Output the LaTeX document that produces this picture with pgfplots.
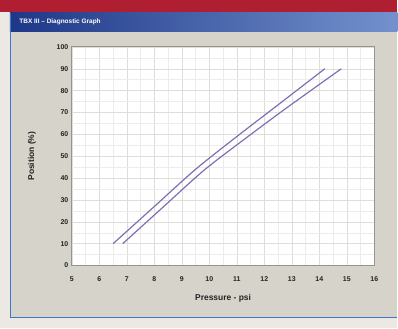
\documentclass[border=0pt]{standalone}
\usepackage{pgfplots}
\pgfplotsset{compat=1.18}
\usepackage{fontspec}
\setmainfont{Liberation Sans}
\definecolor{redband}{RGB}{176,30,50}
\definecolor{outer}{RGB}{236,233,229}
\definecolor{panel}{RGB}{214,211,203}
\definecolor{winblue}{RGB}{60,120,200}
\definecolor{tbdark}{RGB}{30,55,135}
\definecolor{tblight}{RGB}{115,145,205}
\definecolor{linecol}{RGB}{128,112,178}
\definecolor{majgrid}{RGB}{225,222,218}
\definecolor{mingrid}{RGB}{238,236,234}
\definecolor{framecol}{RGB}{150,148,142}
\definecolor{labcol}{RGB}{35,35,35}
\begin{document}
\begin{tikzpicture}[x=1bp,y=1bp]
% background decorations
\fill[outer] (0,0) rectangle (398,329);
\fill[redband] (0,317) rectangle (398,329);
\fill[panel] (10,11) rectangle (398,297);
\shade[left color=tbdark, right color=tblight] (10,297) rectangle (398,316);
\draw[winblue, line width=1.5bp] (10.5,316) -- (10.5,11) -- (398,11);
\node[anchor=west, text=white, font=\fontsize{6.5}{7}\selectfont\bfseries] at (16,307) {TBX III -- Diagnostic Graph};
\begin{axis}[
  at={(72bp,63bp)}, anchor=south west,
  scale only axis, width=303bp, height=219bp,
  xmin=5, xmax=16, ymin=0, ymax=100,
  xtick={5,...,16}, ytick={0,10,...,100},
  minor x tick num=1, minor y tick num=1,
  grid=both,
  major grid style={draw=majgrid, line width=0.5bp},
  minor grid style={draw=mingrid, line width=0.4bp},
  axis background/.style={fill=white},
  axis line style={draw=framecol, line width=1bp},
  tick style={draw=none},
  ticklabel style={font=\fontsize{7}{8}\selectfont\bfseries, text=labcol},
  xticklabel style={yshift=-8bp},
  /pgf/number format/assume math mode=true,
  xlabel={Pressure - psi}, ylabel={Position (\%)},
  label style={font=\fontsize{8.5}{9}\selectfont\bfseries, text=labcol},
  xlabel style={yshift=-6bp},
  ylabel style={yshift=14bp},
]
\addplot[linecol, line width=1.2bp, smooth] coordinates {
 (6.5,10) (8.0,27) (9.5,44) (11.0,59) (12.5,73.5) (14.2,90)
};
\addplot[linecol, line width=1.2bp, smooth] coordinates {
 (6.85,10) (8.3,26.5) (9.8,43.5) (11.3,58) (12.8,72) (14.8,90)
};
\end{axis}
\end{tikzpicture}
\end{document}
